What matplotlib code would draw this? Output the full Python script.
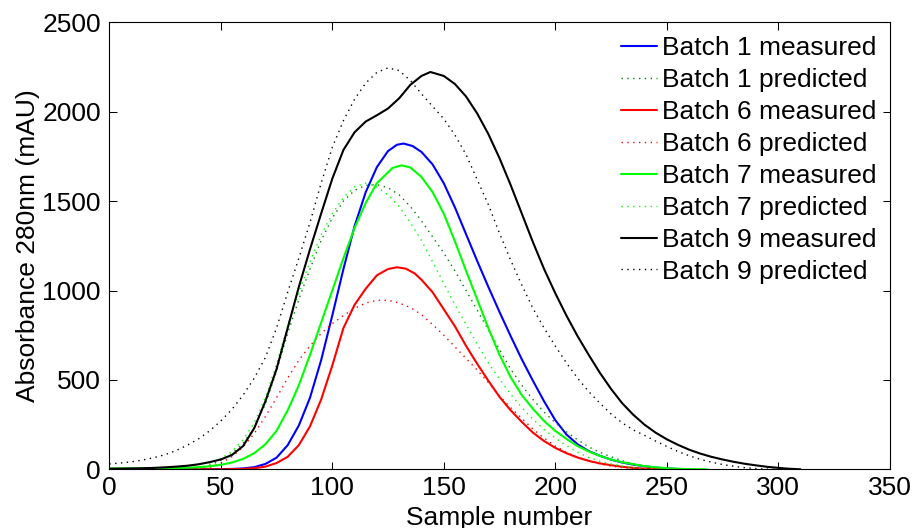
import numpy as np
import matplotlib
matplotlib.use("Agg")
import matplotlib.pyplot as plt

plt.rcParams['font.family'] = ['Liberation Sans', 'DejaVu Sans']

# ---- chromatogram data: sample number vs absorbance at 280 nm (mAU) ----
b1_meas_x = [0, 40, 50, 55, 60, 65, 70, 75, 80, 85, 90, 95, 100, 105, 110, 115, 120, 125, 129, 132,
             136, 140, 145, 150, 155, 160, 165, 170, 175, 180, 185, 190, 195, 200, 205, 210, 215,
             220, 225, 230, 235, 240, 245, 250, 255, 260]
b1_meas_y = [0, 0, 1, 2, 5, 12, 30, 65, 135, 245, 400, 610, 860, 1120, 1360, 1550, 1690, 1780, 1815, 1822,
             1808, 1775, 1705, 1600, 1465, 1315, 1165, 1020, 880, 745, 615, 495, 380, 275, 195, 140, 102,
             76, 54, 38, 26, 17, 10, 5, 2, 0]

b1_pred_x = [40, 45, 50, 55, 60, 65, 70, 75, 80, 85, 90, 95, 100, 105, 110, 115, 120, 125, 130, 135,
             140, 145, 150, 155, 160, 165, 170, 175, 180, 185, 190, 195, 200, 205, 210, 215, 220,
             225, 230, 235, 240, 245, 250, 255]
b1_pred_y = [0, 22, 50, 88, 145, 235, 365, 550, 760, 950, 1120, 1280, 1405, 1500, 1560, 1588, 1592, 1575, 1535, 1470,
             1390, 1300, 1210, 1110, 1000, 890, 780, 670, 560, 470, 390, 320, 260, 210, 165, 125, 95,
             70, 48, 30, 18, 8, 3, 0]

b6_meas_x = [0, 50, 55, 60, 65, 70, 75, 80, 85, 90, 95, 100, 105, 110, 115, 120, 125, 129, 133, 137,
             140, 145, 150, 155, 160, 165, 170, 175, 180, 185, 190, 195, 200, 205, 210, 215, 220,
             225, 230, 235, 240, 245, 250]
b6_meas_y = [0, 0, 1, 2, 6, 15, 35, 70, 135, 240, 390, 580, 790, 920, 1010, 1085, 1120, 1130, 1122, 1095,
             1060, 990, 895, 800, 690, 590, 495, 405, 330, 265, 205, 158, 120, 90, 66, 47, 33,
             23, 14, 8, 4, 2, 0]

b6_pred_x = [40, 45, 50, 55, 60, 65, 70, 75, 80, 85, 90, 95, 100, 105, 110, 115, 120, 125, 130, 135,
             140, 145, 150, 155, 160, 165, 170, 175, 180, 185, 190, 195, 200, 205, 210, 215, 220,
             225, 230, 235, 240, 245]
b6_pred_y = [0, 10, 35, 70, 125, 200, 295, 400, 510, 610, 690, 760, 815, 860, 900, 930, 945, 945, 930, 905,
             865, 810, 750, 685, 620, 555, 485, 410, 345, 285, 225, 175, 130, 95, 68, 48, 30,
             18, 10, 5, 2, 0]

b7_meas_x = [0, 10, 20, 30, 35, 40, 45, 50, 55, 60, 65, 70, 75, 80, 85, 90, 95, 100, 105, 110, 115,
             120, 127, 131, 135, 140, 145, 150, 155, 160, 165, 170, 175, 180, 185, 190, 195, 200,
             205, 210, 215, 220, 225, 230, 235, 240, 245, 250, 255, 260, 268]
b7_meas_y = [5, 5, 6, 7, 9, 12, 17, 25, 38, 58, 90, 140, 215, 330, 470, 640, 820, 1000, 1180, 1350, 1490,
             1600, 1685, 1700, 1688, 1635, 1550, 1430, 1275, 1110, 950, 790, 640, 515, 415, 338, 270, 215,
             170, 130, 100, 75, 55, 40, 28, 18, 11, 6, 3, 1, 0]

b7_pred_x = [40, 45, 50, 55, 60, 65, 70, 75, 80, 85, 90, 95, 100, 105, 110, 115, 120, 125, 130, 135,
             140, 145, 150, 155, 160, 165, 170, 175, 180, 185, 190, 195, 200, 205, 210, 215, 220,
             225, 230, 235, 240, 245]
b7_pred_y = [0, 30, 60, 100, 165, 260, 400, 590, 800, 990, 1160, 1310, 1430, 1520, 1580, 1600, 1580, 1535, 1470, 1380,
             1280, 1160, 1040, 920, 810, 700, 595, 505, 420, 345, 280, 222, 175, 132, 95, 66, 45,
             30, 18, 10, 4, 0]

b9_meas_x = [0, 5, 10, 15, 20, 25, 30, 35, 40, 45, 50, 55, 60, 65, 70, 75, 80, 85, 90, 95, 100, 105,
             110, 115, 120, 125, 130, 135, 140, 144, 150, 155, 160, 165, 170, 175, 180, 185, 190, 195,
             200, 205, 210, 215, 220, 225, 230, 235, 240, 245, 250, 255, 260, 265, 270, 275, 280,
             285, 290, 295, 300, 305, 310]
b9_meas_y = [3, 4, 5, 6, 8, 11, 15, 20, 28, 40, 55, 80, 130, 230, 380, 560, 790, 1020, 1230, 1430, 1625, 1786,
             1885, 1945, 1980, 2018, 2075, 2150, 2200, 2222, 2200, 2155, 2085, 1990, 1875, 1740, 1590, 1430, 1270, 1120,
             985, 860, 745, 640, 540, 450, 370, 305, 250, 205, 168, 137, 110, 88, 70, 55, 42,
             31, 22, 14, 8, 3, 0]

b9_pred_x = [0, 5, 10, 15, 20, 25, 30, 35, 40, 45, 50, 55, 60, 65, 70, 75, 80, 85, 90, 95, 100, 105,
             110, 115, 120, 125, 130, 135, 140, 145, 150, 155, 160, 165, 170, 175, 180, 185, 190, 195,
             200, 205, 210, 215, 220, 225, 230, 235, 240, 245, 250, 255, 260, 265, 270, 275, 280,
             285, 290, 295, 300]
b9_pred_y = [30, 35, 42, 52, 65, 82, 105, 135, 170, 215, 270, 335, 415, 510, 625, 790, 990, 1180, 1380, 1600, 1800, 1950,
             2070, 2160, 2220, 2245, 2230, 2175, 2100, 2030, 1960, 1870, 1760, 1620, 1480, 1320, 1170, 1030, 900, 790,
             690, 595, 510, 435, 370, 310, 260, 220, 190, 158, 128, 100, 76, 56, 40, 27, 17,
             9, 4, 1, 0]

x_ticks = [0, 50, 100, 150, 200, 250, 300, 350]
y_ticks = [0, 500, 1000, 1500, 2000, 2500]

DARK_GREEN = (0.0, 0.5, 0.0)
SOLID_W = 1.5
DOT_W = 1.0
DOTS = (0, (1, 3.2))

fig = plt.figure(figsize=(9.13, 5.28), dpi=100)
ax = fig.add_axes([0.11972, 0.11117, 0.85477, 0.84659])

series = [
    (b1_meas_x, b1_meas_y, 'Batch 1 measured', (0, 0, 1), '-'),
    (b1_pred_x, b1_pred_y, 'Batch 1 predicted', DARK_GREEN, ':'),
    (b6_meas_x, b6_meas_y, 'Batch 6 measured', (1, 0, 0), '-'),
    (b6_pred_x, b6_pred_y, 'Batch 6 predicted', (1, 0, 0), ':'),
    (b7_meas_x, b7_meas_y, 'Batch 7 measured', (0, 1, 0), '-'),
    (b7_pred_x, b7_pred_y, 'Batch 7 predicted', (0, 1, 0), ':'),
    (b9_meas_x, b9_meas_y, 'Batch 9 measured', (0, 0, 0), '-'),
    (b9_pred_x, b9_pred_y, 'Batch 9 predicted', (0, 0, 0), ':'),
]

for xs, ys, label, color, style in series:
    if style == '-':
        ax.plot(xs, ys, color=color, lw=SOLID_W, label=label,
                solid_joinstyle='round', solid_capstyle='round')
    else:
        ax.plot(xs, ys, color=color, lw=DOT_W, linestyle=DOTS, label=label)

ax.set_xlim(0, 350)
ax.set_ylim(0, 2500)
ax.set_xticks(x_ticks)
ax.set_yticks(y_ticks)
ax.tick_params(direction='in', length=5.4, width=0.75, top=True, right=True,
               labelsize=19, colors='black')
ax.tick_params(axis='x', pad=5)
ax.tick_params(axis='y', pad=6)
for sp in ax.spines.values():
    sp.set_linewidth(0.8)

ax.set_xlabel('Sample number', fontsize=19, labelpad=4)
ax.set_ylabel('Absorbance 280nm (mAU)', fontsize=19, labelpad=2)

ax.legend(loc='upper left', bbox_to_anchor=(0.6557, 0.9687), frameon=False,
          fontsize=19, handlelength=1.35, handletextpad=0.2, borderpad=0,
          borderaxespad=0, labelspacing=0.3)

fig.savefig('out.png', dpi=100)
